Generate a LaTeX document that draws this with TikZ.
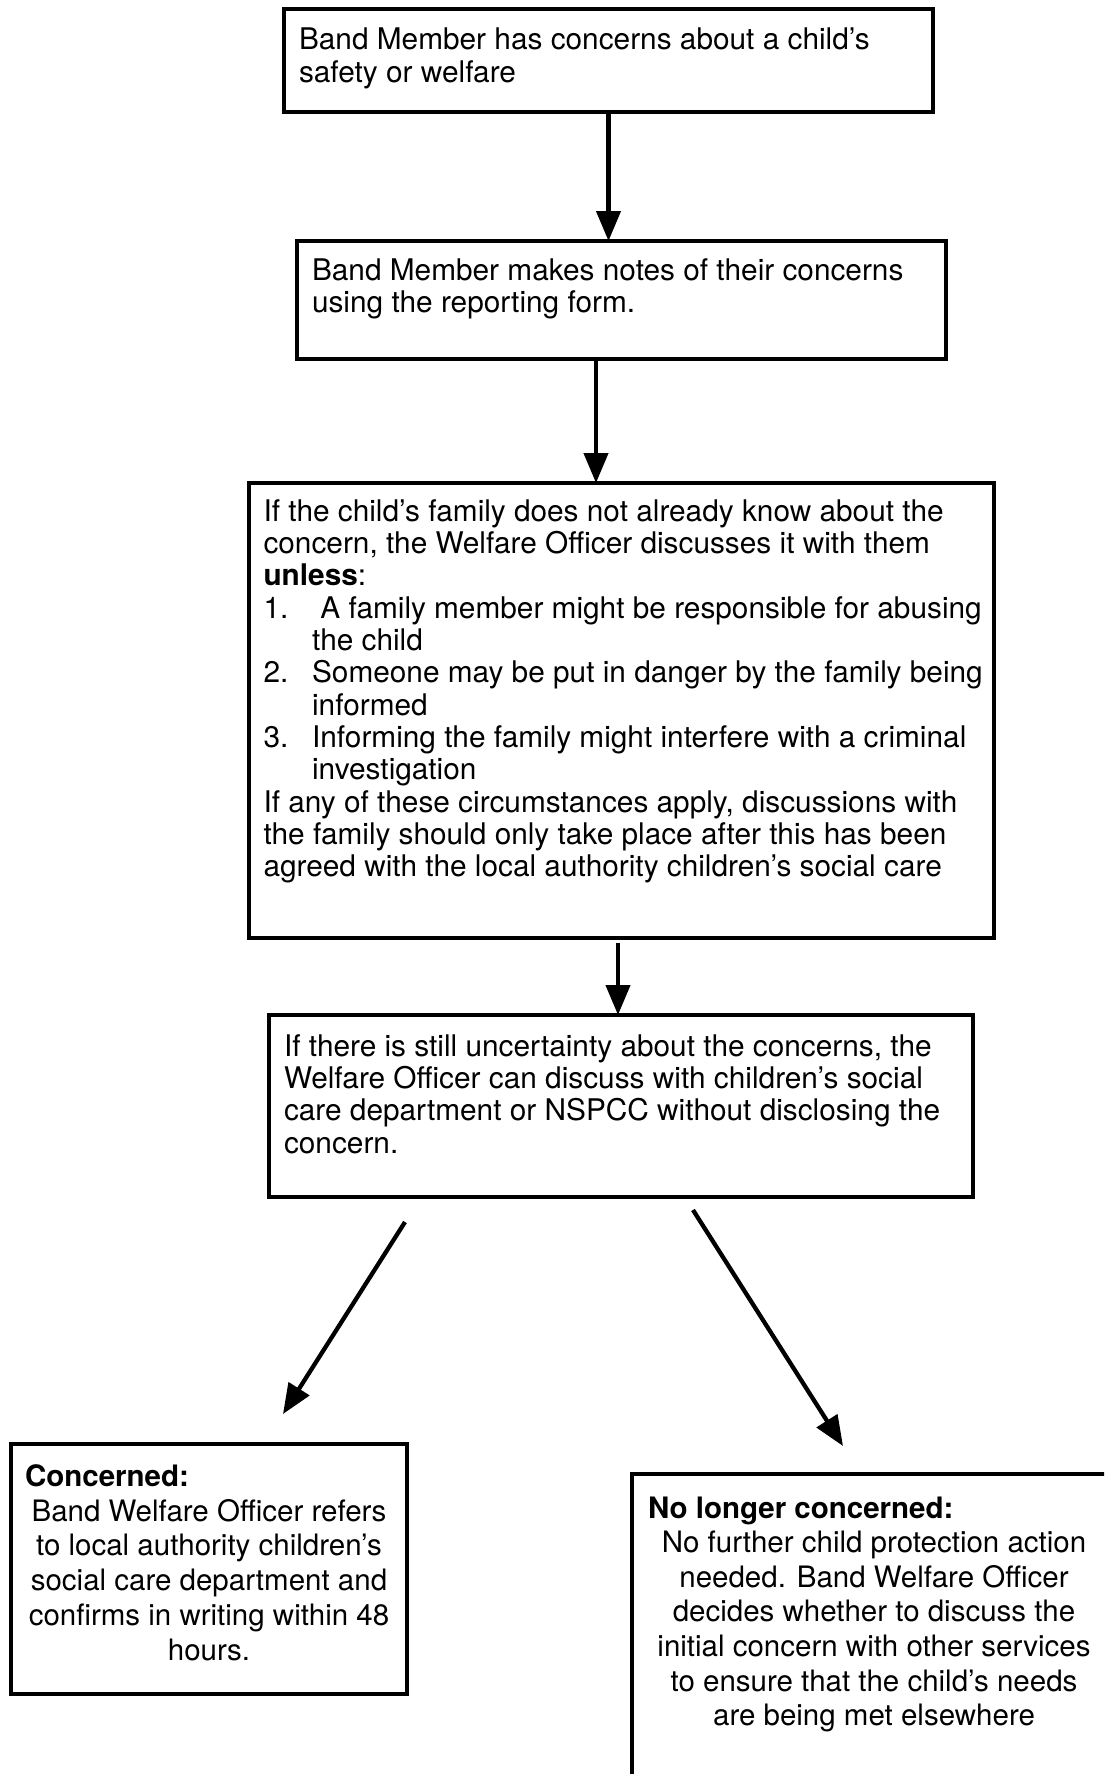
\documentclass[tikz,border=0pt]{standalone}
\usepackage{fontspec}
\setmainfont{TeX Gyre Heros}
\usetikzlibrary{arrows.meta,calc}
\newcommand\bx[3]{\begin{minipage}[t][#1][t]{#2}\raggedright #3\end{minipage}}
\tikzset{
  box/.style={draw=black, line width=4.5pt, anchor=north west, outer sep=0pt, fill=white},
  topfont/.style={font=\fontsize{29.8}{32.3}\selectfont},
  lowfont/.style={font=\fontsize{29.5}{34.8}\selectfont},
  arr/.style={line width=4.3pt, -{Triangle[length=30pt,width=24pt]}}
}
\begin{document}
\begin{tikzpicture}[x=1pt,y=-1pt]
\useasboundingbox (0,0) rectangle (1104,1774);
\begin{scope}
\clip (0,0) rectangle (1104,1774);
\fill[white] (0,0) rectangle (1104,1774);

\node[box, topfont, inner xsep=15pt, inner ysep=19pt] (b1) at (284,9)
 {\bx{65pt}{619pt}{\mbox{Band Member has concerns about a child’s}\\
 \mbox{safety or welfare}}};

\node[box, topfont, inner xsep=15pt, inner ysep=17.5pt] (b2) at (297,241)
 {\bx{83pt}{619pt}{\mbox{Band Member makes notes of their concerns}\\
 \mbox{using the reporting form.}}};

\node[box, topfont, inner xsep=14.5pt, inner ysep=16.5pt] (b3) at (249,483)
 {\bx{422pt}{716pt}{\mbox{If the child’s family does not already know about the}\\
 \mbox{concern, the Welfare Officer discusses it with them}\\
 \mbox{\textbf{unless}:}\\
 \mbox{\makebox[48.6pt][l]{1.}\ A family member might be responsible for abusing}\\
 \mbox{\hspace*{48.6pt}the child}\\
 \mbox{\makebox[48.6pt][l]{2.}Someone may be put in danger by the family being}\\
 \mbox{\hspace*{48.6pt}informed}\\
 \mbox{\makebox[48.6pt][l]{3.}Informing the family might interfere with a criminal}\\
 \mbox{\hspace*{48.6pt}investigation}\\
 \mbox{If any of these circumstances apply, discussions with}\\
 \mbox{the family should only take place after this has been}\\
 \mbox{agreed with the local authority children’s social care}}};

\node[box, topfont, inner xsep=15pt, inner ysep=19.5pt] (b4) at (269,1015)
 {\bx{143pt}{674pt}{\mbox{If there is still uncertainty about the concerns, the}\\
 \mbox{Welfare Officer can discuss with children’s social}\\
 \mbox{care department or NSPCC without disclosing the}\\
 \mbox{concern.}}};

\node[box, lowfont, inner xsep=14pt, inner ysep=20.5pt] (b5) at (11,1444)
 {\bx{209pt}{368pt}{\textbf{Concerned:}\par\centering
 \mbox{Band Welfare Officer refers}\\
 \mbox{to local authority children’s}\\
 \mbox{social care department and}\\
 \mbox{confirms in writing within 48}\\
 \mbox{hours.}\par}};

\node[box, lowfont, font=\fontsize{29.5}{34.6}\selectfont, inner xsep=16pt, inner ysep=22.5pt] (b6) at (632,1474)
 {\bx{281pt}{452pt}{\textbf{No longer concerned:}\par\centering
 \mbox{No further child protection action}\\
 \mbox{needed. Band Welfare Officer}\\
 \mbox{decides whether to discuss the}\\
 \mbox{initial concern with other services}\\
 \mbox{to ensure that the child’s needs}\\
 \mbox{are being met elsewhere}\par}};

\draw[arr] (b1.south) -- (b1.south |- b2.north);
\draw[arr] ([xshift=-25.5pt]b2.south) -- ([xshift=-25.5pt]b2.south |- b3.north);
\draw[arr] ([xshift=-3.5pt,yshift=-5pt]b3.south) -- ([xshift=-3.5pt]b3.south |- b4.north);

\coordinate (l1) at (405,1222);
\coordinate (l2) at (283,1414);
\coordinate (r1) at (693,1210);
\coordinate (r2) at (843,1446);
\draw[arr] (l1) -- (l2);
\draw[arr] (r1) -- (r2);
\end{scope}
\end{tikzpicture}
\end{document}
